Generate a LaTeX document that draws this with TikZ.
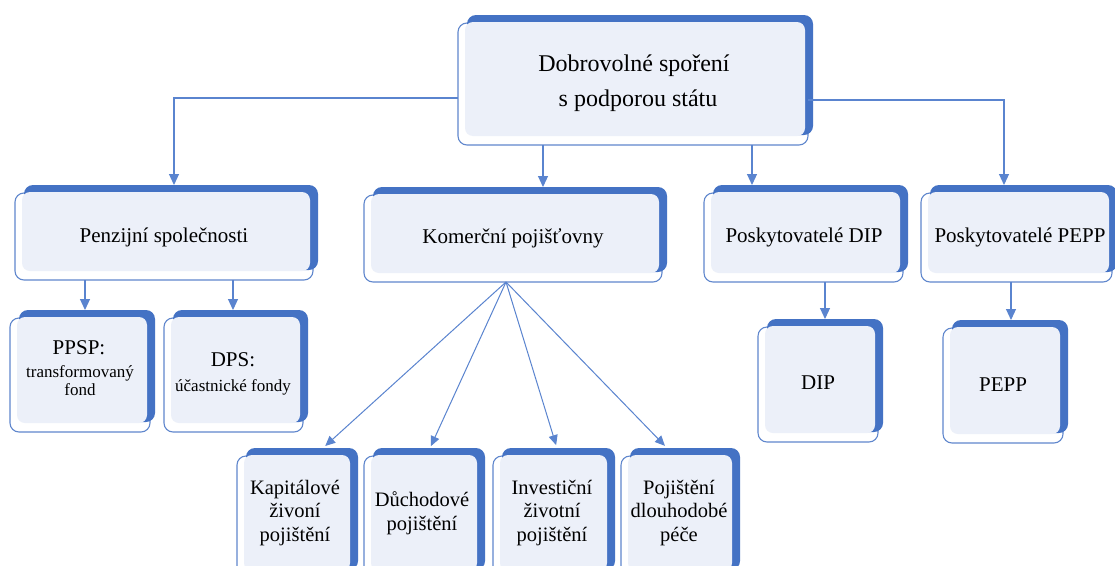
\documentclass[tikz,border=0pt]{standalone}
\usepackage{fontspec}
\setmainfont{Liberation Serif}
\newfontfamily\tnr{Liberation Serif}
\usetikzlibrary{arrows.meta,fit}
\definecolor{bblue}{HTML}{4472C4}
\definecolor{lightfill}{HTML}{ECF0F9}
\definecolor{connc}{HTML}{5A84CF}
\tikzset{
  boxline/.style={draw=bblue!85, line width=1.1pt},
  conn/.style={draw=connc, line width=1.1pt, -{Triangle[length=11pt,width=10pt]}},
  fanline/.style={draw=connc, line width=1pt, -{Triangle[length=10pt,width=9pt]}},
  geom/.style={inner sep=0pt, outer sep=0pt},
  txt/.style={align=center, text=black, inner sep=0pt},
  big/.style={font=\tnr\fontsize{21}{25}\selectfont},
  huge/.style={font=\tnr\fontsize{24}{35}\selectfont},
  bot/.style={font=\tnr\fontsize{20.5}{23.5}\selectfont},
  small/.style={font=\tnr\fontsize{17}{17}\selectfont},
}
\newcommand\obox[5]{%
  \draw[boxline, fill=white, rounded corners=9pt] (#2,#3) rectangle (#4,#5);
  \fill[bblue, rounded corners=9pt] (#2+9,#3-8) rectangle (#4+5,#5-10);
  \fill[lightfill, rounded corners=8pt] (#2+7,#3-1) rectangle (#4-3,#5-9);
  \coordinate (#1-nw) at (#2,#3-8);
  \coordinate (#1-se) at (#4,#5);
  \node[geom, fit=(#1-nw)(#1-se)] (#1) {};
}
\begin{document}
\begin{tikzpicture}[x=1pt,y=-1pt]
\useasboundingbox (0,0) rectangle (1115,565);
\clip (0,0) rectangle (1115,565);
\fill[white] (0,0) rectangle (1115,565);

\obox{top}{458}{23}{808}{145}
\obox{pen}{15}{193}{313}{280}
\obox{kom}{364}{195}{662}{282}
\obox{dipp}{704}{193}{903}{282}
\obox{pepp}{921}{193}{1112}{282}
\obox{ppsp}{10}{318}{150}{432}
\obox{dps}{164}{318}{303}{432}
\obox{dip}{758}{327}{878}{442}
\obox{pep}{943}{328}{1063}{443}
\obox{kap}{237}{456}{353}{580}
\obox{duch}{364}{456}{480}{580}
\obox{inv}{493}{456}{610}{580}
\obox{pdp}{621}{456}{735}{580}

\node[txt,huge] (top-t) at (634,83) {Dobrovolné spoření\\\hspace*{8pt}s podporou státu};
\node[txt,big] (pen-t) at (164,237) {Penzijní společnosti};
\node[txt,big] (kom-t) at (513,238) {Komerční pojišťovny};
\node[txt,big] (dipp-t) at (804,237) {Poskytovatelé DIP};
\node[txt,big] (pepp-t) at (1020,237) {Poskytovatelé PEPP};
\node[txt,big] (ppsp-t1) at (79,348) {PPSP:};
\node[txt,small] (ppsp-t2) at (80,373) {transformovaný};
\node[txt,small] (ppsp-t3) at (80,390) {fond};
\node[txt,big] (dps-t1) at (233,360) {DPS:};
\node[txt,small] (dps-t2) at (233,387) {účastnické fondy};
\node[txt,big] (dip-t) at (818,383) {DIP};
\node[txt,big] (pep-t) at (1003,385) {PEPP};
\node[txt,bot] (kap-t) at (295,513) {Kapitálové\\živoní\\pojištění};
\node[txt,bot] (duch-t) at (422,513) {Důchodové\\pojištění};
\node[txt,bot] (inv-t) at (552,513) {Investiční\\životní\\pojištění};
\node[txt,bot] (pdp-t) at (679,513) {Pojištění\\dlouhodobé\\péče};

\draw[conn] (top.west |- 0,98) -| ([xshift=10pt]pen.north);
\draw[conn] (top.south -| 543,0) -- (kom.north -| 543,0);
\draw[conn] (top.south -| 752,0) -- (dipp.north -| 752,0);
\draw[conn] (top.east |- 0,100) -| (pepp.north -| 1004,0);
\draw[conn] (pen.south -| 85,0) -- (ppsp.north -| 85,0);
\draw[conn] (pen.south -| 233,0) -- (dps.north -| 233,0);
\draw[conn] (dipp.south -| 825,0) -- (dip.north -| 825,0);
\draw[conn] (pepp.south -| 1011,0) -- (pep.north -| 1011,0);
\coordinate (fan) at (kom.south -| 506,0);
\draw[fanline, shorten >=3pt] (fan) -- (kap.north -| 323,0);
\draw[fanline, shorten >=2pt] (fan) -- (duch.north -| 430,0);
\draw[fanline, shorten >=3pt] (fan) -- (inv.north -| 557,0);
\draw[fanline, shorten >=3pt] (fan) -- (pdp.north -| 667,0);
\end{tikzpicture}
\end{document}
